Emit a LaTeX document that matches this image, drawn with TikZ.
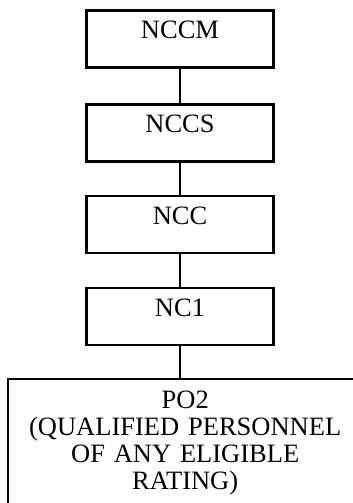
\documentclass[tikz,border=0pt]{standalone}
\usepackage{fontspec}
\setmainfont{Liberation Serif}
\begin{document}
\begin{tikzpicture}[x=1pt,y=-1pt,
  rank/.style={draw, line width=2.4pt, minimum width=187pt, minimum height=57pt,
    inner sep=0pt, text height=18pt, text depth=19pt,
    font=\fontsize{26.5}{27}\selectfont},
  bigbox/.style={anchor=north west, inner sep=0pt,
    text width=354pt, minimum width=354pt, align=center,
    font=\fontsize{26.5}{27}\selectfont},
  link/.style={line width=2.4pt}]
\useasboundingbox (0,0) rectangle (353,503);
\clip (0,0) rectangle (353,503);
\node[rank] (nccm) at (180,39) {NCCM};
\node[rank] (nccs) at (180,133) {NCCS};
\node[rank] (ncc) at (180,224.5) {NCC};
\node[rank] (nc1) at (180,316.5) {NC1};
\node[bigbox] (po2) at (8,379) {\rule{0pt}{29pt}PO2\hspace*{22pt}\\(QUALIFIED PERSONNEL\\OF ANY ELIGIBLE\\RATING)\rule[-25pt]{0pt}{25pt}};
\draw[link] (po2.south west) -- (po2.north west) -- ([xshift=20pt]po2.north east);
\draw[link] (nccm) -- (nccs);
\draw[link] (nccs) -- (ncc);
\draw[link] (ncc) -- (nc1);
\draw[link] (nc1.south) -- (nc1.south |- po2.north);
\end{tikzpicture}
\end{document}
